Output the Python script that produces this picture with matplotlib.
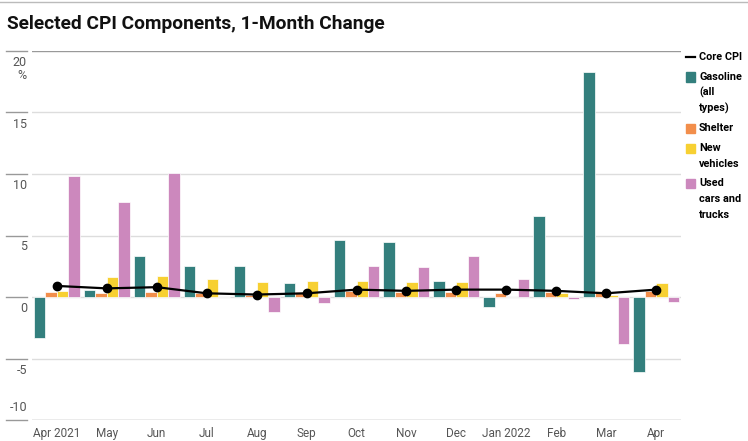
import matplotlib
matplotlib.use('Agg')
from matplotlib import pyplot as plt
from matplotlib import transforms
from matplotlib.patches import Rectangle
from matplotlib.lines import Line2D
import numpy as np

months = ['Apr 2021', 'May', 'Jun', 'Jul', 'Aug', 'Sep', 'Oct', 'Nov', 'Dec',
          'Jan 2022', 'Feb', 'Mar', 'Apr']
gasoline = [-3.3, 0.6, 3.3, 2.5, 2.5, 1.1, 4.6, 4.5, 1.3, -0.8, 6.6, 18.3, -6.1]
shelter = [0.4, 0.3, 0.4, 0.3, 0.2, 0.4, 0.5, 0.4, 0.4, 0.3, 0.4, 0.5, 0.5]
new_vehicles = [0.5, 1.6, 1.7, 1.5, 1.2, 1.3, 1.3, 1.2, 1.2, 0.0, 0.3, 0.2, 1.1]
used_cars = [9.8, 7.7, 10.1, 0.0, -1.2, -0.5, 2.5, 2.4, 3.3, 1.5, -0.2, -3.8, -0.4]
core_cpi = [0.9, 0.7, 0.8, 0.3, 0.2, 0.3, 0.6, 0.5, 0.6, 0.6, 0.5, 0.3, 0.6]
y_ticks = [-10, -5, 0, 5, 10, 15, 20]

series = [('Gasoline\n(all\ntypes)', gasoline, '#337f7d'),
          ('Shelter', shelter, '#f28e4b'),
          ('New\nvehicles', new_vehicles, '#f7d032'),
          ('Used\ncars and\ntrucks', used_cars, '#cc88bd')]

plt.rcParams['font.family'] = ['Roboto', 'DejaVu Sans']

W, H = 748, 441
fig = plt.figure(figsize=(W / 100, H / 100), dpi=100)
ax = fig.add_axes([32 / W, (H - 420) / H, (681 - 32) / W, (420 - 51) / H])

x = np.arange(len(months))
bw = 0.23
for i, (name, vals, col) in enumerate(series):
    ax.bar(x + (i - 1.5) * bw, vals, width=bw, color=col, edgecolor='white',
           linewidth=0.5, zorder=3)
ax.plot(x, core_cpi, color='black', lw=1.6, marker='o', ms=6, zorder=4)

ax.set_xlim(-0.5, len(months) - 0.5)
ax.set_ylim(-10, 20)
for s in ax.spines.values():
    s.set_visible(False)
ax.set_yticks([])
ax.set_xticks(x)
ax.set_xticklabels(months, fontsize=8.5, color='#555555')
ax.tick_params(axis='x', length=0, pad=5)

# gridlines, left stubs and y labels (label sits under its line, lowest one above)
stub = transforms.blended_transform_factory(fig.transFigure, ax.transData)
for t in y_ticks:
    edge = t in (-10, 20)
    ax.axhline(t, color='#999999' if edge else '#dddddd', lw=1.0, zorder=1)
    fig.add_artist(Line2D([6 / W, 27 / W], [t, t], transform=stub,
                          color='#999999', lw=1.0))
    lab = '20\n%' if t == 20 else str(t)
    if t == -10:
        tr = transforms.offset_copy(stub, fig=fig, x=0, y=6, units='dots')
        va = 'bottom'
    else:
        tr = transforms.offset_copy(stub, fig=fig, x=0, y=-5, units='dots')
        va = 'top'
    fig.text(27 / W, t, lab, transform=tr, ha='right', va=va,
             fontsize=9, color='#555555', linespacing=1.0)

# title and top rule
fig.add_artist(Line2D([0, 1], [1 - 1.5 / H, 1 - 1.5 / H], color='#bbbbbb', lw=1))
fig.text(7 / W, 1 - 24 / H, 'Selected CPI Components, 1-Month Change',
         fontsize=13.8, fontweight='bold', va='center', ha='left', color='#111111')

# legend drawn by hand
def fy(py):
    return 1 - py / H

fig.add_artist(Line2D([686 / W, 695 / W], [fy(57), fy(57)], color='black', lw=1.6))
fig.text(699 / W, fy(57), 'Core CPI', fontsize=7.8, fontweight='bold', va='center')
y = 77
for name, vals, col in series:
    fig.add_artist(Rectangle((686 / W, fy(y + 4.5)), 9 / W, 9 / H,
                             color=col, transform=fig.transFigure))
    lines = name.split('\n')
    for j, ln in enumerate(lines):
        fig.text(699 / W, fy(y + j * 15.5), ln, fontsize=7.8, fontweight='bold',
                 va='center')
    y = y + (len(lines) - 1) * 15.5 + 20

fig.savefig('out.png', dpi=100)
